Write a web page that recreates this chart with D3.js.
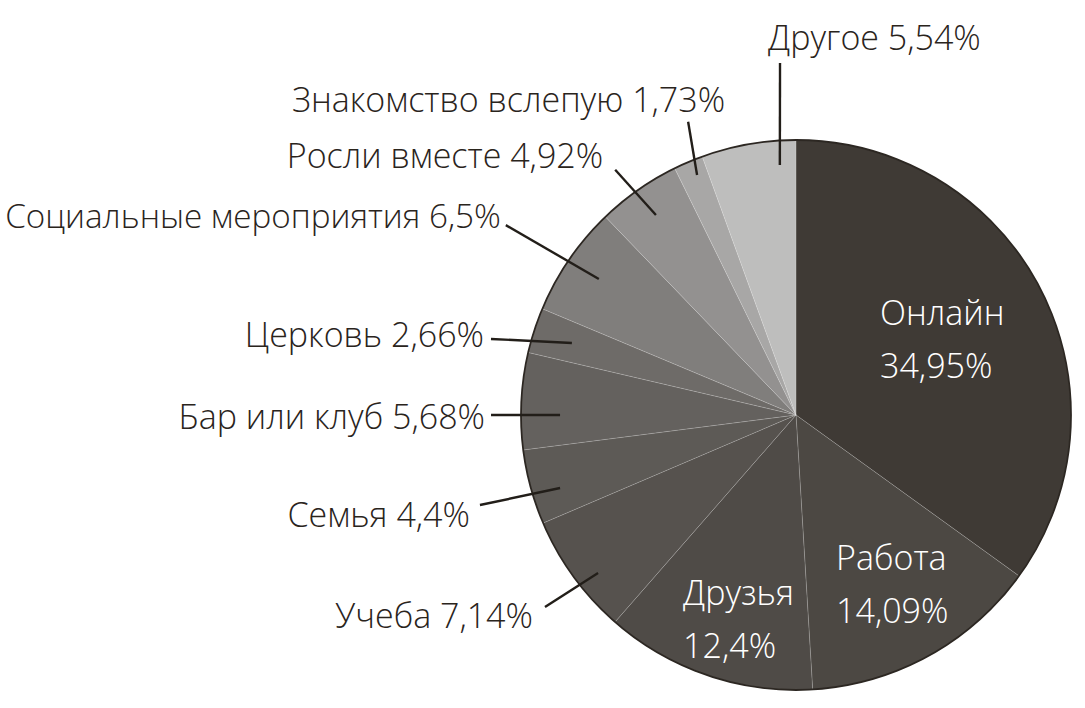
<!DOCTYPE html>
<html>
<head>
<meta charset="utf-8">
<script src="https://cdn.jsdelivr.net/npm/d3@7"></script>
<style>
  html, body { margin: 0; padding: 0; background: #ffffff; }
  svg { display: block; }
  text { font-family: "Open Sans", "Noto Sans", sans-serif; font-weight: 300; }
</style>
</head>
<body>
<svg id="chart" width="1085" height="708"></svg>
<script>
// ---- data ----
const categories = ["Онлайн", "Работа", "Друзья", "Учеба", "Семья", "Бар или клуб",
  "Церковь", "Социальные мероприятия", "Росли вместе", "Знакомство вслепую", "Другое"];
const values = [34.95, 14.09, 12.4, 7.14, 4.4, 5.68, 2.66, 6.5, 4.92, 1.73, 5.54];
const sliceColors = ["#3f3a35", "#4c4843", "#4f4b47", "#56524e", "#5d5a56", "#64615e",
  "#6e6b68", "#807e7c", "#939190", "#a8a7a6", "#bebebd"];

// ---- layout (annotation geometry, polar: angle in degrees clockwise from top, radius as fraction of R) ----
const insideLabels = {
  0: [43.0, 0.448],
  1: [165.5, 0.582],
  2: [210.7, 0.804]
};
const outsideLabels = {
  10: { inner: [356.3, 0.911], outer: [357.4, 1.281], off: [-12, -13], anchor: "start" },
  9:  { inner: [337.6, 0.944], outer: [339.8, 1.136], off: [37, -10], anchor: "end" },
  8:  { inner: [325.0, 0.888], outer: [323.6, 1.108], off: [-12, -2], anchor: "end" },
  7:  { inner: [304.6, 0.871], outer: [303.2, 1.261], off: [-5, 3], anchor: "end" },
  6:  { inner: [287.8, 0.856], outer: [284.0, 1.143], off: [-7, 8], anchor: "end" },
  5:  { inner: [270.0, 0.858], outer: [270.0, 1.109], off: [-6, 14], anchor: "end" },
  4:  { inner: [252.8, 0.898], outer: [254.1, 1.195], off: [-10, 22], anchor: "end" },
  3:  { inner: [231.4, 0.921], outer: [232.6, 1.149], off: [-12, 21], anchor: "end" }
};

const W = 1085, H = 708;
const cx = 796, cy = 415, R = 275;
const fontSize = 34;
const textColor = "#2a241c";
const edgePad = 5;

const fmt = v => String(v).replace(".", ",") + "%";
const polar = (a, r) => {
  const t = a * Math.PI / 180;
  return [cx + r * R * Math.sin(t), cy - r * R * Math.cos(t)];
};

const svg = d3.select("#chart");
svg.append("rect").attr("width", W).attr("height", H).attr("fill", "#ffffff");

const pie = d3.pie().sort(null).value(d => d)(values);
const arc = d3.arc().innerRadius(0).outerRadius(R);

const g = svg.append("g").attr("transform", `translate(${cx},${cy})`);
g.selectAll("path.slice")
  .data(pie)
  .join("path")
  .attr("class", "slice")
  .attr("d", arc)
  .attr("fill", (d, i) => sliceColors[i])
  .attr("stroke", "rgba(255,255,255,0.16)")
  .attr("stroke-width", 1)
  .attr("stroke-linejoin", "round");

g.append("circle").attr("r", R).attr("fill", "none")
  .attr("stroke", "#2c2722").attr("stroke-width", 1.8);

Object.entries(outsideLabels).forEach(([k, L]) => {
  const i = +k;
  const p1 = polar(L.inner[0], L.inner[1]);
  const p2 = polar(L.outer[0], L.outer[1]);
  svg.append("line")
    .attr("x1", p1[0]).attr("y1", p1[1])
    .attr("x2", p2[0]).attr("y2", p2[1])
    .attr("stroke", "#221e19").attr("stroke-width", 2.4);
  const t = svg.append("text")
    .attr("x", p2[0] + L.off[0]).attr("y", p2[1] + L.off[1])
    .attr("text-anchor", L.anchor)
    .attr("font-size", fontSize)
    .attr("fill", textColor)
    .text(categories[i] + " " + fmt(values[i]));
  // shrink a label slightly if it would run past the left edge
  const bb = t.node().getBBox();
  if (bb.x < edgePad) {
    const f = fontSize * (bb.width - (edgePad - bb.x)) / bb.width;
    t.attr("font-size", f.toFixed(2));
  }
});

Object.entries(insideLabels).forEach(([k, L]) => {
  const i = +k;
  const p = polar(L[0], L[1]);
  const t = svg.append("text")
    .attr("font-size", fontSize)
    .attr("fill", "#ffffff");
  t.append("tspan").attr("x", p[0]).attr("y", p[1]).text(categories[i]);
  t.append("tspan").attr("x", p[0]).attr("y", p[1] + 53).text(fmt(values[i]));
});
</script>
</body>
</html>
